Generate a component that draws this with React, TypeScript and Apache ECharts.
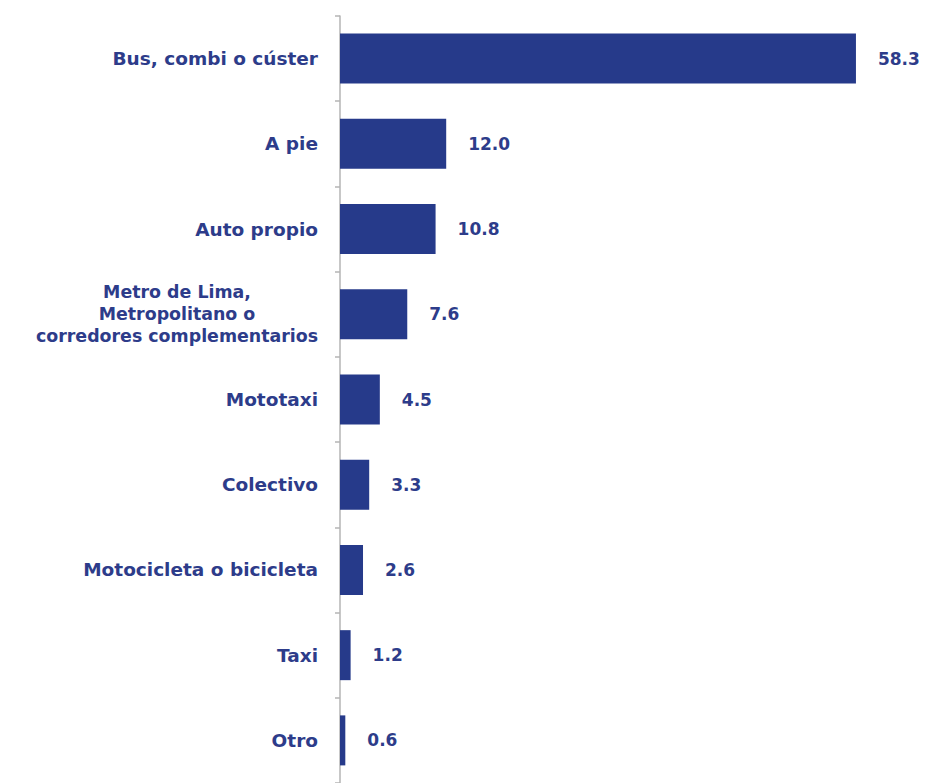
import React, { useEffect, useRef } from "react";
import * as echarts from "echarts";

const categories = [
  "Bus, combi o cúster",
  "A pie",
  "Auto propio",
  "Metro de Lima,\nMetropolitano o\ncorredores complementarios",
  "Mototaxi",
  "Colectivo",
  "Motocicleta o bicicleta",
  "Taxi",
  "Otro",
];
const values = [58.3, 12.0, 10.8, 7.6, 4.5, 3.3, 2.6, 1.2, 0.6];

const BAR = "#263a8a";
const TEXT = "#2d3c8a";
const FONT = "'DejaVu Sans', sans-serif";

export default function App() {
  const ref = useRef<HTMLDivElement>(null);
  useEffect(() => {
    if (!ref.current) return;
    const chart = echarts.init(ref.current, undefined, { renderer: "svg" });
    chart.setOption({
      animation: false,
      backgroundColor: "#ffffff",
      grid: { left: 340, right: 54, top: 16, bottom: -5, containLabel: false },
      xAxis: { type: "value", min: 0, max: 60, show: false },
      yAxis: {
        type: "category",
        inverse: true,
        data: categories,
        axisLine: { show: true, lineStyle: { color: "#b5b5b5", width: 1.5 } },
        axisTick: { show: true, length: 5, lineStyle: { color: "#b5b5b5", width: 1.5 } },
        axisLabel: {
          margin: 22,
          color: TEXT,
          fontFamily: FONT,
          fontWeight: "bold",
          fontSize: 18.5,
          formatter: (v: string) =>
            v.indexOf("\n") >= 0 ? "{m|" + v + "}" : v,
          rich: {
            m: {
              width: 282,
              align: "center",
              lineHeight: 22,
              color: TEXT,
              fontFamily: FONT,
              fontWeight: "bold",
              fontSize: 17.4,
            },
          },
        },
        splitLine: { show: false },
      },
      series: [
        {
          type: "bar",
          data: values,
          barWidth: 50,
          itemStyle: { color: BAR },
          label: {
            show: true,
            position: "right",
            distance: 22,
            color: TEXT,
            fontFamily: FONT,
            fontWeight: "bold",
            fontSize: 17,
            formatter: (p: any) => p.value.toFixed(1),
          },
        },
      ],
    });
    return () => chart.dispose();
  }, []);
  return (
    <div
      ref={ref}
      style={{ position: "absolute", left: 0, top: 0, width: 925, height: 783 }}
    />
  );
}
